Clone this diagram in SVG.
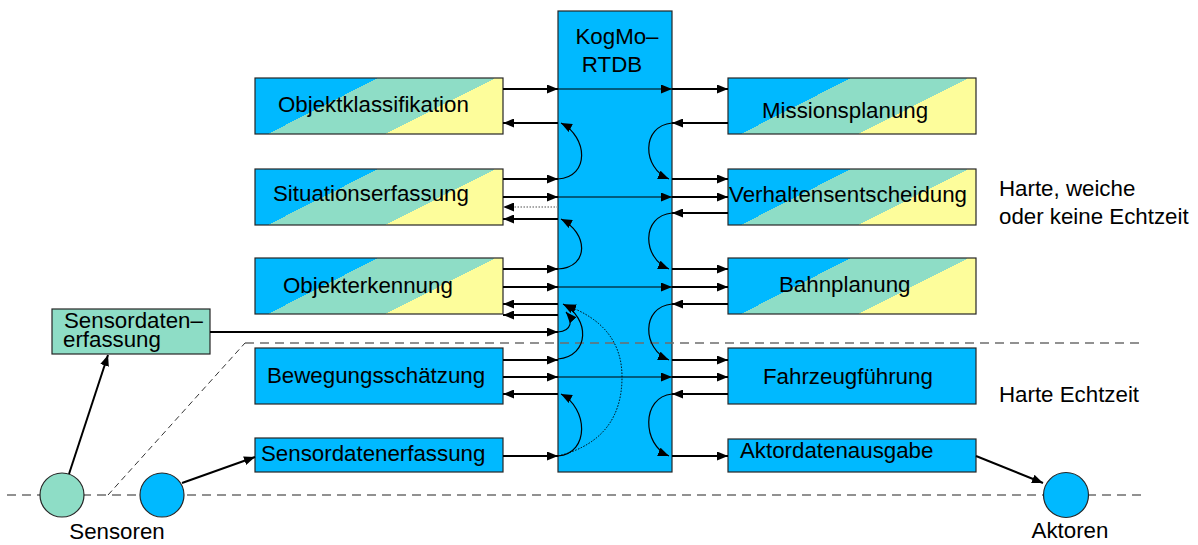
<svg xmlns="http://www.w3.org/2000/svg" width="1198" height="545" viewBox="0 0 1198 545">
  <style>
    text { font-family: "Liberation Sans", Arial, sans-serif; font-size: 22.3px; fill: #000; }
    .box { stroke: #262626; stroke-width: 1.2; }
    .grad { fill: url(#tri); }
    .blue { fill: #00B9FF; }
    .teal { fill: #8EDDC6; }
    .thick { fill: none; stroke: #000; stroke-width: 2; marker-end: url(#ah); }
    .thin { fill: none; stroke: #000; stroke-width: 1.2; marker-end: url(#ah); }
    .dots { fill: none; stroke: #000; stroke-width: 1; stroke-dasharray: 1.5 1.5; marker-end: url(#ah); }
    .grey { fill: none; stroke: #8a8a8a; stroke-width: 1.4; stroke-dasharray: 1.5 1.5; marker-end: url(#ah); }
    .sep { fill: none; stroke: #6e6e6e; stroke-width: 1.3; stroke-dasharray: 9 6; }
    .diag { fill: none; stroke: #333; stroke-width: 1; stroke-dasharray: 6 4; }
  </style>
  <defs>
    <linearGradient id="tri" x1="0" y1="0" x2="1" y2="0.444">
      <stop offset="0" stop-color="#00B9FF"/>
      <stop offset="0.414" stop-color="#00B9FF"/>
      <stop offset="0.414" stop-color="#8EDDC6"/>
      <stop offset="0.81" stop-color="#8EDDC6"/>
      <stop offset="0.81" stop-color="#FDFD9B"/>
      <stop offset="1" stop-color="#FDFD9B"/>
    </linearGradient>
    <marker id="ah" markerUnits="userSpaceOnUse" markerWidth="11" markerHeight="9" refX="11" refY="4.5" orient="auto">
      <path d="M0,0 L11,4.5 L0,9 z" fill="#000"/>
    </marker>
  </defs>

  <!-- central real-time database -->
  <g id="rtdb">
    <rect class="box blue" x="558" y="11" width="114" height="461"/>
    <text x="617" y="44" text-anchor="middle">KogMo–</text>
    <text x="612" y="72" text-anchor="middle">RTDB</text>
  </g>

  <!-- separators between real-time domains -->
  <g id="separators">
    <path class="sep" d="M245,343 H1143"/>
    <path class="sep" d="M7,495 H1142"/>
    <path class="diag" d="M108,495 L245,343"/>
  </g>

  <!-- left column: perception modules -->
  <g id="objektklassifikation">
    <rect class="box grad" x="255" y="78" width="248" height="56"/>
    <text x="278" y="112">Objektklassifikation</text>
  </g>
  <g id="situationserfassung">
    <rect class="box grad" x="255" y="169" width="248" height="56"/>
    <text x="273" y="201">Situationserfassung</text>
  </g>
  <g id="objekterkennung">
    <rect class="box grad" x="255" y="258" width="248" height="56"/>
    <text x="283" y="293">Objekterkennung</text>
  </g>
  <g id="bewegungsschaetzung">
    <rect class="box blue" x="255" y="348" width="248" height="56"/>
    <text x="267" y="383">Bewegungsschätzung</text>
  </g>
  <g id="sensordatenerfassung">
    <rect class="box blue" x="255" y="438" width="248" height="34"/>
    <text x="261" y="461">Sensordatenerfassung</text>
  </g>

  <!-- right column: planning and control modules -->
  <g id="missionsplanung">
    <rect class="box grad" x="728" y="78" width="248" height="56"/>
    <text x="762" y="118">Missionsplanung</text>
  </g>
  <g id="verhaltensentscheidung">
    <rect class="box grad" x="728" y="169" width="248" height="56"/>
    <text x="729" y="202">Verhaltensentscheidung</text>
  </g>
  <g id="bahnplanung">
    <rect class="box grad" x="728" y="258" width="248" height="56"/>
    <text x="779" y="292">Bahnplanung</text>
  </g>
  <g id="fahrzeugfuehrung">
    <rect class="box blue" x="728" y="348" width="248" height="56"/>
    <text x="763" y="384">Fahrzeugführung</text>
  </g>
  <g id="aktordatenausgabe">
    <rect class="box blue" x="728" y="439" width="248" height="33"/>
    <text x="740" y="458">Aktordatenausgabe</text>
  </g>

  <!-- non-real-time sensor acquisition -->
  <g id="sensordaten-erfassung">
    <rect class="box teal" x="52" y="309" width="158" height="45"/>
    <text><tspan x="64" y="328">Sensordaten–</tspan><tspan x="63" y="347">erfassung</tspan></text>
  </g>

  <!-- sensors and actuators -->
  <g id="sensor-soft">
    <circle class="box teal" cx="62" cy="495" r="22"/>
  </g>
  <g id="sensor-hard">
    <circle class="box blue" cx="162" cy="495" r="22"/>
  </g>
  <g id="sensoren-label">
    <text x="117" y="539" text-anchor="middle">Sensoren</text>
  </g>
  <g id="aktor">
    <circle class="box blue" cx="1066" cy="495" r="22.5"/>
    <text x="1070" y="538" text-anchor="middle">Aktoren</text>
  </g>

  <!-- domain labels -->
  <g id="labels">
    <text x="999" y="196">Harte, weiche</text>
    <text x="999" y="224">oder keine Echtzeit</text>
    <text x="999" y="402">Harte Echtzeit</text>
  </g>

  <g id="connectors">
    <!-- writes from the left modules into the database -->
    <path class="thick" d="M503,89 H558"/>
    <path class="thick" d="M503,179 H558"/>
    <path class="thick" d="M503,197 H558"/>
    <path class="thick" d="M503,269 H558"/>
    <path class="thick" d="M503,287 H558"/>
    <path class="thick" d="M503,360 H558"/>
    <path class="thick" d="M503,377 H558"/>
    <path class="thick" d="M503,456 H558"/>
    <path class="thick" d="M210,332 H558"/>

    <!-- reads back to the left modules -->
    <path class="thick" d="M558,123 H503"/>
    <path class="grey" d="M558,207 H503"/>
    <path class="thick" d="M558,219 H503"/>
    <path class="thick" d="M558,304 H503"/>
    <path class="thick" d="M558,315 H503"/>
    <path class="thick" d="M558,394 H503"/>

    <!-- pass-through channels across the database -->
    <path class="thin" d="M558,89 H672"/>
    <path class="thin" d="M558,197 H672"/>
    <path class="thin" d="M558,287 H672"/>
    <path class="thin" d="M558,377 H672"/>

    <!-- reads into the right modules -->
    <path class="thick" d="M672,89 H728"/>
    <path class="thick" d="M672,179 H728"/>
    <path class="thick" d="M672,197 H728"/>
    <path class="thick" d="M672,269 H728"/>
    <path class="thick" d="M672,287 H728"/>
    <path class="thick" d="M672,360 H728"/>
    <path class="thick" d="M672,377 H728"/>
    <path class="thick" d="M672,456 H728"/>

    <!-- writes from the right modules -->
    <path class="thick" d="M728,123 H672"/>
    <path class="thick" d="M728,213 H672"/>
    <path class="thick" d="M728,304 H672"/>
    <path class="thick" d="M728,394 H672"/>

    <!-- internal loops, left side -->
    <path class="thin" d="M558,179 C590,177 588,137 561,123"/>
    <path class="thin" d="M558,269 C590,267 588,233 561,219"/>
    <path class="thin" d="M558,359 C590,356 590,318 563,304"/>
    <path class="thin" d="M558,332 C572,331 573,320 566,312"/>
    <path class="thin" d="M558,456 C590,453 588,408 561,394"/>
    <path class="dots" d="M558,456 Q622,440 622,377 Q622,325 565,305"/>

    <!-- internal loops, right side -->
    <path class="thin" d="M672,123 C641,126 642,168 669,179"/>
    <path class="thin" d="M672,213 C641,216 642,258 669,269"/>
    <path class="thin" d="M672,304 C641,307 642,349 669,360"/>
    <path class="thin" d="M672,394 C641,397 642,445 669,456"/>

    <!-- sensor and actuator links -->
    <path class="thick" d="M69,474 L108,355"/>
    <path class="thick" d="M182,483 L255,457"/>
    <path class="thick" d="M976,456 L1043,483"/>
  </g>
</svg>
